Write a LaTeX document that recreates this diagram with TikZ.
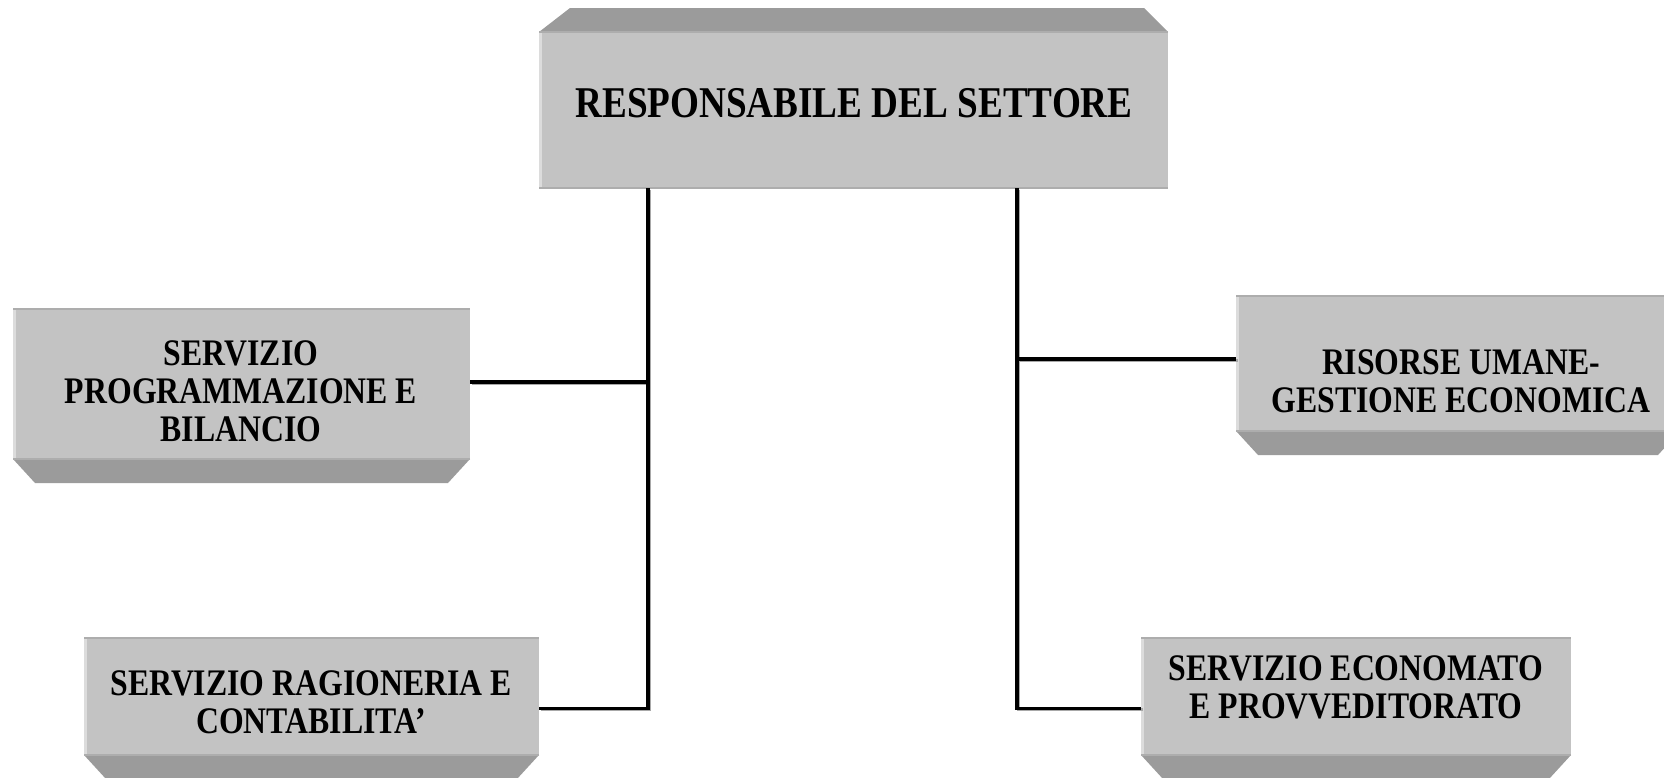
\documentclass[tikz,border=0pt]{standalone}
\usepackage{fontspec}
\setmainfont{Liberation Serif}[FakeStretch=0.847]
\usetikzlibrary{calc}
\definecolor{facegray}{HTML}{C3C3C3}
\definecolor{bevelgray}{HTML}{9B9B9B}
\definecolor{edgelight}{HTML}{DCDCDC}
\definecolor{edgedark}{HTML}{ADADAD}
\definecolor{shadowgray}{HTML}{A8A8A8}
\tikzset{
  face/.style={fill=facegray, draw=none, inner sep=0pt, outer sep=0pt},
  bevel/.style={fill=bevelgray},
  boxtext/.style={font=\bfseries\fontsize{18.75}{19}\selectfont, align=center, inner sep=0pt},
  toptext/.style={font=\bfseries\fontsize{21.95}{24}\selectfont, inner sep=0pt},
  conn/.style={line width=1.6pt, draw=black, line join=miter},
  connshadow/.style={line width=1.6pt, draw=shadowgray, line join=miter},
}
\begin{document}
\begin{tikzpicture}[x=0.5pt,y=-0.5pt]
\useasboundingbox (0,0) rectangle (1664,777);
\clip (0,0) rectangle (1664,777);

% box faces
\node[face, minimum width=314.5pt, minimum height=78pt] (top) at (853.5,110) {};
\node[face, minimum width=228.5pt, minimum height=75pt] (b1) at (241.5,384) {};
\node[face, minimum width=222pt, minimum height=67.5pt] (b2) at (1458,363.5) {};
\node[face, minimum width=227.5pt, minimum height=58.5pt] (b3) at (311.5,696.5) {};
\node[face, minimum width=215pt, minimum height=58.5pt] (b4) at (1356,696.5) {};

% bevels
\fill[bevel] (top.north west) -- ++(31,-24) -- ($(top.north east)+(-24,-24)$) -- (top.north east) -- cycle;
\foreach \b in {b1,b2,b3,b4}{
  \fill[bevel] (\b.south west) -- ++(22,24) -- ($(\b.south east)+(-22,24)$) -- (\b.south east) -- cycle;
}
% edge details
\foreach \b in {top,b1,b2,b3,b4}{
  \fill[edgelight] (\b.north west) rectangle ($(\b.south west)+(3,0)$);
  \draw[edgedark, line width=1pt] (\b.south west) -- (\b.south east);
  \draw[edgedark, line width=0.8pt] (\b.north west) -- (\b.north east);
}

% texts
\node[toptext] (ttop) at (854,103) {RESPONSABILE DEL SETTORE};
\node[boxtext] (t1) at (241,391.5) {SERVIZIO\\PROGRAMMAZIONE E\\BILANCIO};
\node[boxtext] (t2) at (1461,381.5) {RISORSE UMANE-\\GESTIONE ECONOMICA};
\node[boxtext] (t3) at (311,702.5) {SERVIZIO RAGIONERIA E\\CONTABILITA’};
\node[boxtext] (t4) at (1356,687.5) {SERVIZIO ECONOMATO\\E PROVVEDITORATO};

% connector coordinates
\coordinate (lx) at (648,0);
\coordinate (rx) at (1017,0);
\coordinate (e1) at ($(b1.north east)!0.487!(b1.south east)$);
\coordinate (e2) at ($(b2.north west)!0.467!(b2.south west)$);
\coordinate (e3) at ($(b3.north east)!0.6!(b3.south east)$);
\coordinate (e4) at ($(b4.north west)!0.6!(b4.south west)$);

\begin{scope}[transform canvas={xshift=0.8pt,yshift=-0.8pt}]
  \draw[connshadow] (top.south -| lx) -- (lx |- e3) -- (e3);
  \draw[connshadow] (e1) -- (lx |- e1);
  \draw[connshadow] (top.south -| rx) -- (rx |- e4) -- (e4);
  \draw[connshadow] (rx |- e2) -- (e2);
\end{scope}
\draw[conn] (top.south -| lx) -- (lx |- e3) -- (e3);
\draw[conn] (e1) -- (lx |- e1);
\draw[conn] (top.south -| rx) -- (rx |- e4) -- (e4);
\draw[conn] (rx |- e2) -- (e2);
\end{tikzpicture}
\end{document}
